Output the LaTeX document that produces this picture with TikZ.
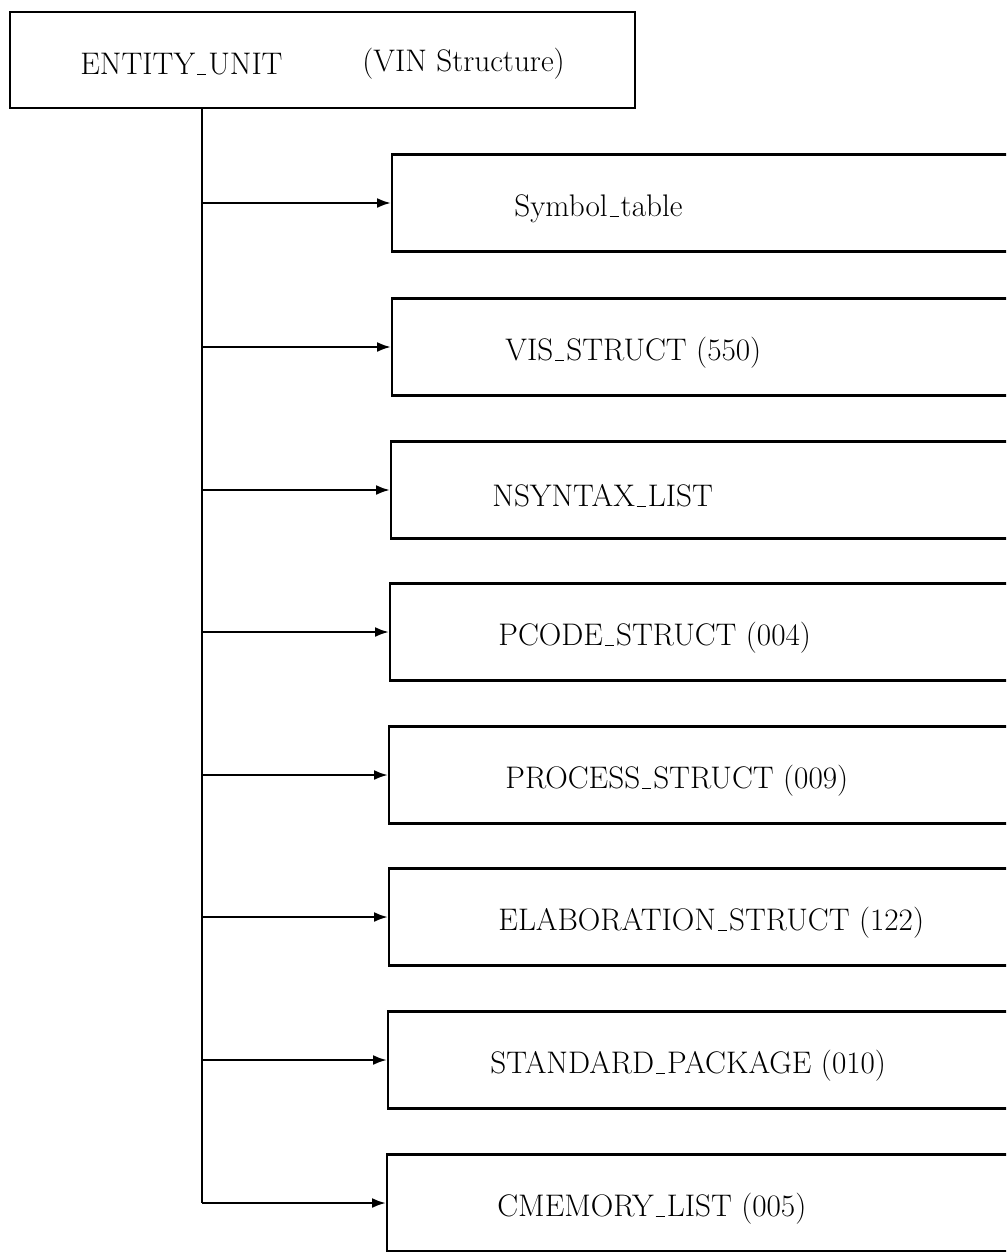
\documentclass[tikz,border=0pt]{standalone}
\usetikzlibrary{arrows.meta}
\newcommand\us{\leavevmode\kern.06em\vbox{\hrule width.3em height.4pt}\kern.06em}
\begin{document}
\begin{tikzpicture}[x=0.5pt,y=-0.5pt,
  boxst/.style={draw,line width=1.2pt,rectangle,minimum height=48.5pt,minimum width=360pt,anchor=west,inner sep=0pt},
  lbl/.style={anchor=west,inner sep=0pt,font=\fontsize{15.6}{18}\selectfont},
  conn/.style={line width=1.2pt},
  arr/.style={line width=1.2pt,-{Latex[length=7pt,width=5pt]}}]
\useasboundingbox (0,0) rectangle (1006,1252);
\clip (0,0) rectangle (1006,1252);
\node[draw,line width=1.2pt,minimum width=312.5pt,minimum height=48pt,inner sep=0pt] (top) at (322.5,60) {};
\node[lbl] (t1) at (80,64) {ENTITY\us UNIT};
\node[lbl] (t2) at (362,64) {(VIN Structure)};
\foreach \i/\y/\bx/\tx/\txt in {
 1/203/391/514/{Symbol\us table},
 2/347/391/505/{VIS\us STRUCT (550)},
 3/490/390/492/{NSYNTAX\us LIST},
 4/632/389/498/{PCODE\us STRUCT (004)},
 5/775/388/505/{PROCESS\us STRUCT (009)},
 6/917/388/498/{ELABORATION\us STRUCT (122)},
 7/1060/387/490/{STANDARD\us PACKAGE (010)},
 8/1203/386/497/{CMEMORY\us LIST (005)}}{
  \node[boxst] (b\i) at (\bx,\y) {};
  \node[lbl] (l\i) at (\tx,\y+6) {\txt};
  \coordinate (s\i) at (202,\y);
  \draw[arr] (s\i) -- (b\i.west);
}
\coordinate (s0) at (202,108);
\draw[conn] (s0) -- (s8);
\end{tikzpicture}
\end{document}
